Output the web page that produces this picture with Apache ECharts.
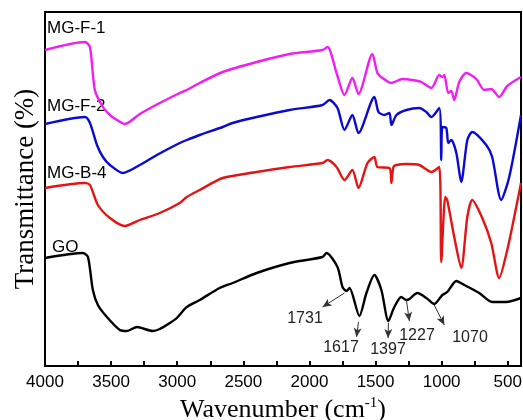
<!DOCTYPE html>
<html>
<head>
<meta charset="utf-8">
<script src="https://cdn.jsdelivr.net/npm/echarts@6/dist/echarts.min.js"></script>
<style>html,body{margin:0;padding:0;background:#fff}#c{width:523px;height:420px}</style>
</head>
<body>
<div id="c"></div>
<script>
// Wavenumber (cm-1) and transmittance (arbitrary offset units) for each spectrum
const f1Wn = [4000,3698,3660,3623,3562,3509,3456,3396,3283,3132,2981,2928,2830,2656,2399,2150,1901,1863,1795,1735,1675,1629,1524,1486,1448,1380,1297,1222,1154,1078,1018,995,980,950,927,905,867,814,738,678,625,565,504,400];
const f1T  = [316,324,319,276,259,251,246,242,252,263,273,276,283,294,304,312,316,319,293,271,288,272,312,293,288,283,287,286,284,278,291,289,291,273,275,266,284,293,287,276,277,269,280,289];

const f2Wn = [4000,3698,3660,3607,3562,3509,3411,3283,3154,2981,2928,2830,2656,2581,2399,2150,1901,1848,1788,1735,1675,1629,1509,1478,1433,1395,1380,1342,1267,1169,1116,1078,1018,1003,995,965,950,927,889,852,806,769,663,618,550,489,400];
const f2T  = [242,249,243,221,209,201,193,201,211,223,226,231,239,243,249,256,261,266,258,236,251,233,269,254,251,253,241,251,256,258,254,249,258,206,239,238,223,226,213,184,226,234,221,209,166,189,251];

const b4Wn = [4000,3698,3660,3600,3509,3396,3283,3132,2981,2928,2830,2656,2399,2150,1901,1863,1795,1735,1675,1629,1561,1509,1486,1395,1380,1365,1342,1267,1169,1078,1018,1003,973,958,905,852,806,769,693,625,565,504,436,400];
const b4T  = [178,183,181,161,148,140,146,153,163,169,176,188,194,199,203,206,199,186,196,178,203,209,199,198,183,199,201,202,201,194,199,104,169,166,129,98,149,166,148,123,88,116,159,183];

const goWn = [4000,3713,3675,3638,3600,3532,3434,3381,3305,3185,3132,3056,3003,2928,2830,2679,2581,2399,2150,1901,1871,1788,1750,1720,1697,1622,1569,1509,1456,1403,1358,1305,1267,1244,1184,1116,1056,995,958,889,829,716,618,512,400];
const goT  = [108,113,109,76,61,49,36,35,39,35,37,43,48,59,66,78,83,93,103,109,113,99,79,75,78,50,73,91,76,45,59,69,66,67,73,68,62,71,74,85,81,73,64,64,68];

const seriesNames = ['MG-F-1','MG-F-2','MG-B-4','GO'];
const seriesColors = ['#f01ef0','#0a0ad2','#e41414','#000000'];
const xTickLabels = [4000,3500,3000,2500,2000,1500,1000,500];
const xMax = 4000, xMin = 400, xTickStep = 250;

// GO band assignments: [label], arrows [start wn, start T, end wn, end T]
const peakLabels = ['1731','1617','1397','1227','1070'];
const peakArrows = [[1735,73,1901,59],[1629,44,1644,29],[1403,43,1405,28],[1267,66,1244,45],[1056,61,980,41]];

const zip = (a,b) => a.map((v,i)=>[v,b[i]]);
const allData = [zip(f1Wn,f1T), zip(f2Wn,f2T), zip(b4Wn,b4T), zip(goWn,goT)];

const chart = echarts.init(document.getElementById('c'), null, {renderer:'canvas'});
const series = allData.map((d,i)=>({
  name: seriesNames[i], type:'line', data:d, showSymbol:false, smooth:0.25,
  lineStyle:{color:seriesColors[i], width:2.4}, animation:false
}));
series[3].markLine = {
  silent:true, symbol:['none','arrow'], symbolSize:[6,9],
  lineStyle:{color:'#333', width:1, type:'solid'}, label:{show:false},
  data: peakArrows.map(a=>[{coord:[a[0],a[1]]},{coord:[a[2],a[3]]}])
};

chart.setOption({
  animation:false,
  grid:{left:45, right:2, top:12, bottom:54, containLabel:false, outerBoundsMode:'none'},
  xAxis:[{
    type:'value', min:xMin, max:xMax, inverse:true, position:'bottom',
    axisLine:{show:true, lineStyle:{color:'#000', width:2}},
    axisTick:{show:false},
    axisLabel:{customValues:xTickLabels, formatter:(v)=>String(v), color:'#000', fontFamily:'Arial, Liberation Sans', fontSize:17, margin:8},
    splitLine:{show:false},
    name:'{a|Wavenumber (cm}{s|-1}{a|)}', nameLocation:'middle', nameGap:24,
    nameTextStyle:{rich:{
      a:{fontFamily:'Liberation Serif, Times New Roman', fontSize:26, color:'#000', lineHeight:28},
      s:{fontFamily:'Liberation Serif, Times New Roman', fontSize:15, color:'#000', lineHeight:28, padding:[0,0,14,0]}
    }}
  },{
    // tick-only axis: distance from 4000 cm-1, so ticks fall every 250 cm-1
    type:'value', min:0, max:xMax-xMin, interval:xTickStep, position:'bottom',
    axisLine:{show:true, lineStyle:{color:'#000', width:2}}, axisLabel:{show:false}, splitLine:{show:false},
    axisTick:{show:true, inside:true, length:5, lineStyle:{color:'#000', width:2}}
  },{
    type:'value', min:xMin, max:xMax, inverse:true, position:'top',
    axisLine:{show:true, lineStyle:{color:'#000', width:2}}, axisTick:{show:false}, axisLabel:{show:false}, splitLine:{show:false}
  }],
  yAxis:[{
    type:'value', min:0, max:354, position:'left',
    axisLine:{show:true, lineStyle:{color:'#000', width:2}},
    axisTick:{show:false}, axisLabel:{show:false}, splitLine:{show:false},
    name:'Transmittance (%)', nameLocation:'middle', nameGap:6,
    nameTextStyle:{fontFamily:'Liberation Serif, Times New Roman', fontSize:27, color:'#000'}
  },{
    type:'value', min:0, max:354, position:'right',
    axisLine:{show:true, lineStyle:{color:'#000', width:2}}, axisTick:{show:false}, axisLabel:{show:false}, splitLine:{show:false}
  }],
  series: series,
  graphic:[
    {type:'text', x:47, y:28, style:{text:seriesNames[0], font:'17px Arial, Liberation Sans', fill:'#000', verticalAlign:'middle'}},
    {type:'text', x:47, y:106, style:{text:seriesNames[1], font:'17px Arial, Liberation Sans', fill:'#000', verticalAlign:'middle'}},
    {type:'text', x:47, y:173, style:{text:seriesNames[2], font:'17px Arial, Liberation Sans', fill:'#000', verticalAlign:'middle'}},
    {type:'text', x:52, y:247, style:{text:seriesNames[3], font:'17px Arial, Liberation Sans', fill:'#000', verticalAlign:'middle'}},
    {type:'text', x:305, y:319, style:{text:peakLabels[0], font:'16px Arial, Liberation Sans', fill:'#222', align:'center', verticalAlign:'middle'}},
    {type:'text', x:341, y:348, style:{text:peakLabels[1], font:'16px Arial, Liberation Sans', fill:'#222', align:'center', verticalAlign:'middle'}},
    {type:'text', x:388, y:350, style:{text:peakLabels[2], font:'16px Arial, Liberation Sans', fill:'#222', align:'center', verticalAlign:'middle'}},
    {type:'text', x:417, y:336, style:{text:peakLabels[3], font:'16px Arial, Liberation Sans', fill:'#222', align:'center', verticalAlign:'middle'}},
    {type:'text', x:470, y:338, style:{text:peakLabels[4], font:'16px Arial, Liberation Sans', fill:'#222', align:'center', verticalAlign:'middle'}}
  ]
});
</script>
</body>
</html>
